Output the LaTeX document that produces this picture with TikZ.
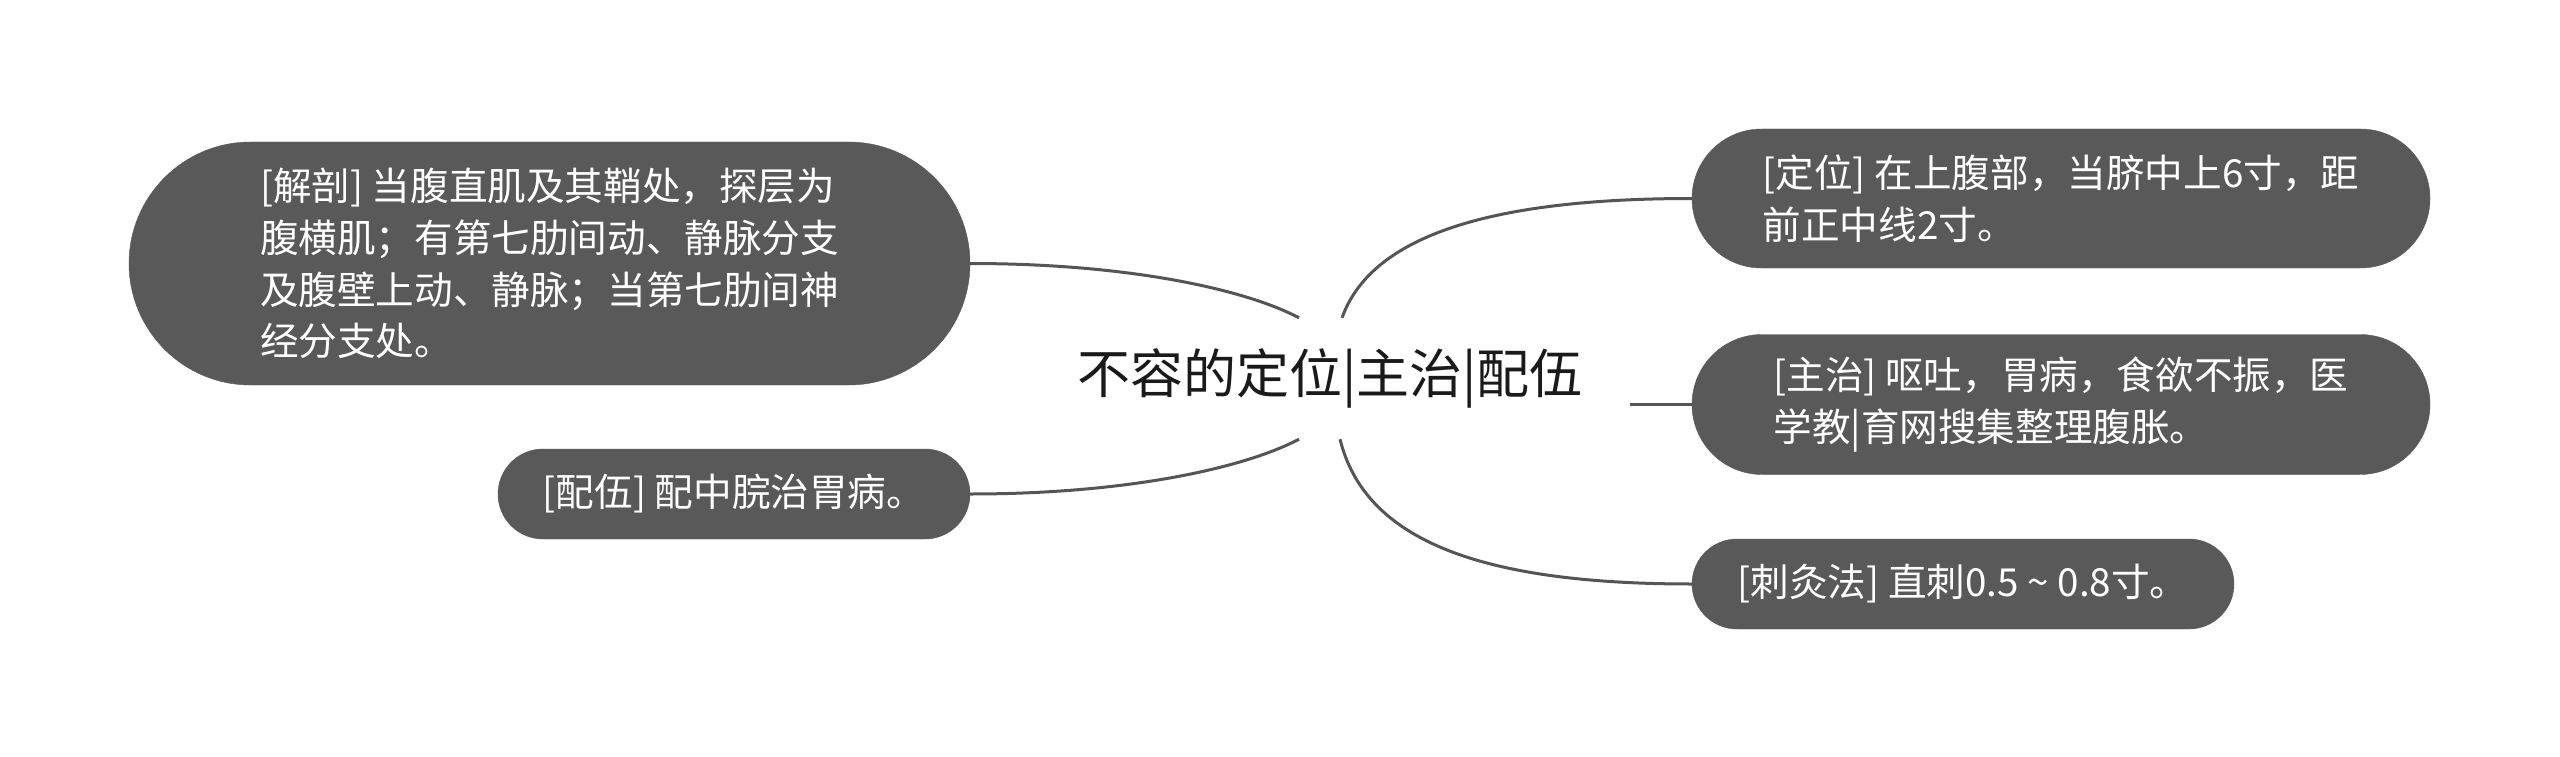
\documentclass[tikz,border=0pt]{standalone}
\usepackage{fontspec}
\setmainfont{Noto Sans CJK SC}
\definecolor{boxgray}{HTML}{595959}
\definecolor{linegray}{HTML}{555555}
\definecolor{titlecol}{HTML}{1A1A1A}
\begin{document}
\begin{tikzpicture}[x=1pt,y=-1pt,
  pill/.style 2 args={shape=rectangle, fill=boxgray, draw=boxgray, text=white,
    minimum width=#1, minimum height=#2, rounded corners=#2/2, inner sep=0pt,
    align=left, font=\fontsize{38.6}{51.7}\selectfont},
  centertitle/.style={shape=rectangle, minimum width=620, minimum height=121,
    inner sep=0pt, text=titlecol, font=\fontsize{53}{64}\selectfont},
  conn/.style={draw=linegray, line width=3pt}]
\useasboundingbox[fill=white] (0,0) rectangle (2560,757);

\node[centertitle] (c) at (1320,378.5) {\hspace*{20pt}不容的定位|主治|配伍};

\node[pill={841}{243}] (jp) at (549.5,263.5)
  {[解剖] 当腹直肌及其鞘处，探层为\\腹横肌；有第七肋间动、静脉分支\\及腹壁上动、静脉；当第七肋间神\\经分支处。};
\node[pill={472}{90}] (pw) at (734,494) {[配伍] 配中脘治胃病。};
\node[pill={738}{139}] (dw) at (2061,198.5) {[定位] 在上腹部，当脐中上6寸，距\\前正中线2寸。};
\node[pill={738}{140}] (zz) at (2061,404.5) {[主治] 呕吐，胃病，食欲不振，医\\学教|育网搜集整理腹胀。};
\node[pill={542}{90}] (cj) at (1963,584) {[刺灸法] 直刺0.5 {\char"7E} 0.8寸。};

\draw[conn] ([xshift=-21pt]c.north) .. controls +(-53,-28) and +(160,0) .. (jp.east);
\draw[conn] ([xshift=-21pt]c.south) .. controls +(-53,28) and +(160,0) .. (pw.east);
\draw[conn] ([xshift=22pt]c.north) .. controls +(28,-78) and +(-212,0) .. (dw.west);
\draw[conn] ([xshift=20pt]c.south) .. controls +(25,101) and +(-212,0) .. (cj.west);
\draw[conn] (c.east |- zz.west) -- (zz.west);
\end{tikzpicture}
\end{document}
